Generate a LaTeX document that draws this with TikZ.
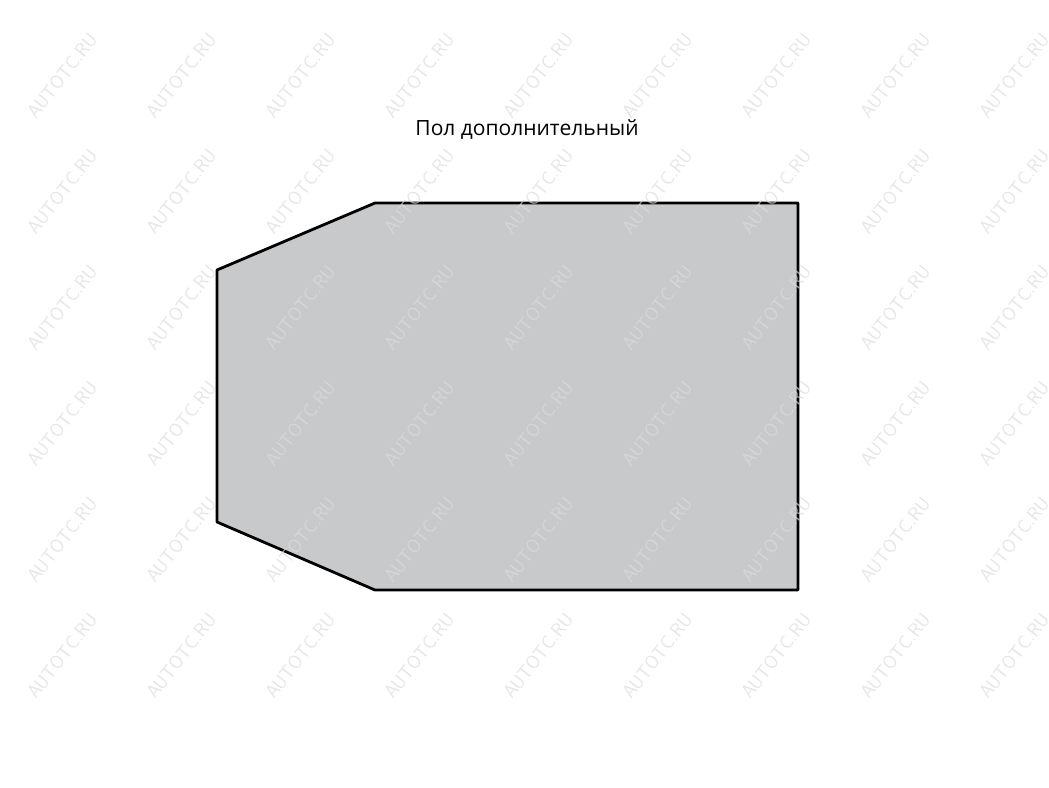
\documentclass[tikz,border=0pt]{standalone}
\usepackage{fontspec}
\setmainfont{Open Sans}
\usepackage{tikz}
\definecolor{floorgray}{RGB}{200,201,202}
\definecolor{markgray}{RGB}{220,220,220}

\begin{document}
\begin{tikzpicture}[x=1pt,y=-1pt]
        \tikzstyle{floor} = [draw=black, line width=2.8pt, line join=round, fill=floorgray]
        \tikzstyle{wmark} = [text=markgray, text opacity=0.7, font=\sffamily\fontsize{19}{19}\selectfont, rotate=52, inner sep=0pt]
        \useasboundingbox (0,0) rectangle (1049,787);
        \fill[white] (0,0) rectangle (1049,787);

        % floor outline
        \coordinate (a) at (217,270);
        \coordinate (b) at (375,203);
        \coordinate (c) at (798,203);
        \coordinate (d) at (798,590);
        \coordinate (e) at (375,590);
        \coordinate (f) at (217,522);
        \draw[floor] (a) -- (b) -- (c) -- (d) -- (e) -- (f) -- cycle;

        % watermark
        \foreach \i in {0,...,8}
          \foreach \j in {0,...,5}
            \node[wmark] at ({62+119*\i},{76+116*\j}) {AUTOTC.RU};

        \node[font=\fontsize{21}{21}\selectfont](title) at (527,130){Пол дополнительный};
    \end{tikzpicture}
\end{document}
